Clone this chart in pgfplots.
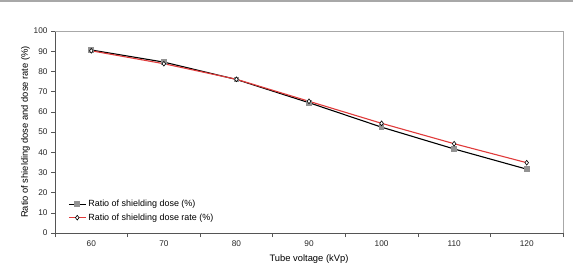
\documentclass[border=0pt]{standalone}
\usepackage{pgfplots}
\pgfplotsset{compat=1.18}
\usepackage{fontspec}
\setmainfont{Liberation Sans}
\definecolor{axgray}{HTML}{555555}
\definecolor{lightax}{HTML}{A8A8A8}
\definecolor{redline}{HTML}{E03A3A}
\begin{document}
\begin{tikzpicture}[x=1bp,y=1bp]
\useasboundingbox (0,0) rectangle (573,268);
\draw[lightax, line width=1.2bp] (0,267) -- (573,267);
\begin{axis}[
  at={(55bp,35bp)}, anchor=south west,
  scale only axis, width=508bp, height=202bp,
  xmin=55, xmax=125, ymin=0, ymax=100,
  xtick={60,70,...,120},
  minor xtick={55,65,...,125},
  ytick={0,10,...,100},
  major x tick style={draw=none},
  minor tick length=4bp,
  major tick length=4bp,
  tick align=outside,
  tick style={axgray, line width=0.6bp},
  axis x line*=bottom, axis y line*=left,
  axis line style={axgray, line width=0.8bp, -},
  ticklabel style={font=\fontsize{8.3}{10}\selectfont, text=black!85},
  /pgf/number format/assume math mode=true,
  xlabel={Tube voltage (kVp)},
  ylabel={Ratio of shielding dose and dose rate (\%)},
  label style={font=\fontsize{9.4}{11}\selectfont},
  xlabel style={yshift=-1bp},
  ylabel style={yshift=-3bp},
  legend style={draw=none, fill=none, at={(13bp,35bp)}, anchor=north west,
    font=\fontsize{9}{10}\selectfont, row sep=1.5bp, inner sep=0pt},
  legend cell align=left,
  clip=false,
]
\addplot[black, line width=1.1bp, mark=square*, mark size=2.3bp,
  mark options={fill=gray!85, draw=gray!85}]
  coordinates {(60,90.6) (70,84.6) (80,76.0) (90,64.5) (100,52.4) (110,41.6) (120,31.6)};
\addlegendentry{Ratio of shielding dose (\%)}
\addplot[redline, line width=1.1bp, mark=diamond*, mark size=2.4bp,
  mark options={fill=white, draw=black, line width=0.6bp}]
  coordinates {(60,90.2) (70,83.8) (80,76.1) (90,65.2) (100,54.3) (110,44.2) (120,34.8)};
\addlegendentry{Ratio of shielding dose rate (\%)}
\draw[lightax, line width=0.8bp] (rel axis cs:0,1) -- (rel axis cs:1,1) -- (rel axis cs:1,0);
\end{axis}
\end{tikzpicture}
\end{document}
